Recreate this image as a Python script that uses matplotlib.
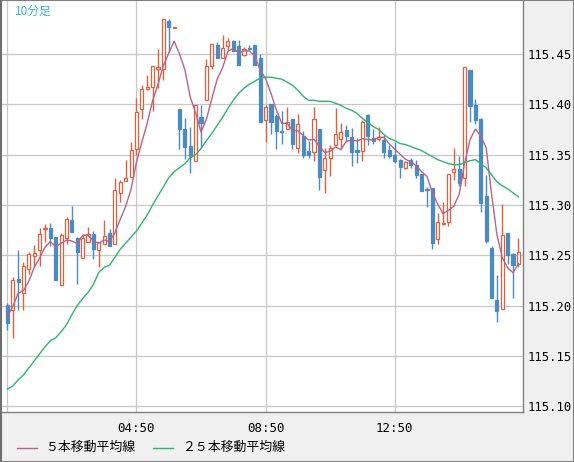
import numpy as np
import pandas as pd
import matplotlib
matplotlib.use("Agg")
import matplotlib.pyplot as plt
from matplotlib.lines import Line2D
from matplotlib.patches import Rectangle

# 10-minute candles
opens = [115.201, 115.196, 115.226, 115.212, 115.236, 115.249, 115.255, 115.276, 115.277, 115.268,
         115.220, 115.267, 115.285, 115.267, 115.247, 115.263, 115.271, 115.255, 115.261, 115.272,
         115.261, 115.312, 115.324, 115.328, 115.356, 115.395, 115.415, 115.417, 115.435, 115.435,
         115.483, 115.476, 115.395, 115.375, 115.359, 115.344, 115.387, 115.404, 115.438, 115.459,
         115.446, 115.458, 115.463, 115.458, 115.449, 115.456, 115.459, 115.446, 115.384, 115.400,
         115.388, 115.373, 115.375, 115.385, 115.357, 115.369, 115.354, 115.353, 115.375, 115.335,
         115.347, 115.360, 115.366, 115.374, 115.368, 115.355, 115.354, 115.389, 115.367, 115.366,
         115.365, 115.355, 115.350, 115.345, 115.337, 115.345, 115.340, 115.331, 115.316, 115.317,
         115.266, 115.281, 115.283, 115.333, 115.336, 115.327, 115.434, 115.399, 115.385, 115.309,
         115.257, 115.206, 115.197, 115.272, 115.251, 115.241]
highs = [115.203, 115.228, 115.255, 115.243, 115.253, 115.260, 115.277, 115.281, 115.282, 115.268,
         115.272, 115.288, 115.299, 115.268, 115.271, 115.278, 115.274, 115.263, 115.285, 115.276,
         115.327, 115.325, 115.345, 115.363, 115.406, 115.419, 115.429, 115.438, 115.455, 115.485,
         115.485, 115.477, 115.395, 115.386, 115.377, 115.399, 115.399, 115.445, 115.460, 115.462,
         115.469, 115.466, 115.464, 115.464, 115.457, 115.459, 115.459, 115.450, 115.399, 115.400,
         115.390, 115.393, 115.397, 115.385, 115.390, 115.373, 115.364, 115.397, 115.375, 115.357,
         115.360, 115.396, 115.381, 115.379, 115.376, 115.367, 115.384, 115.390, 115.375, 115.377,
         115.370, 115.360, 115.363, 115.346, 115.344, 115.347, 115.345, 115.331, 115.318, 115.317,
         115.292, 115.303, 115.331, 115.357, 115.349, 115.437, 115.434, 115.405, 115.386, 115.330,
         115.259, 115.230, 115.301, 115.272, 115.252, 115.267]
lows = [115.176, 115.168, 115.196, 115.196, 115.231, 115.239, 115.239, 115.263, 115.259, 115.225,
        115.220, 115.261, 115.273, 115.221, 115.247, 115.263, 115.246, 115.238, 115.261, 115.259,
        115.261, 115.303, 115.324, 115.328, 115.350, 115.385, 115.414, 115.393, 115.416, 115.424,
        115.452, 115.476, 115.356, 115.346, 115.332, 115.344, 115.357, 115.404, 115.435, 115.446,
        115.446, 115.454, 115.453, 115.439, 115.448, 115.454, 115.439, 115.382, 115.363, 115.371,
        115.356, 115.361, 115.375, 115.356, 115.352, 115.347, 115.347, 115.344, 115.315, 115.312,
        115.329, 115.359, 115.357, 115.364, 115.339, 115.342, 115.344, 115.360, 115.361, 115.364,
        115.347, 115.347, 115.342, 115.327, 115.336, 115.337, 115.327, 115.314, 115.298, 115.256,
        115.261, 115.280, 115.279, 115.325, 115.319, 115.319, 115.382, 115.380, 115.293, 115.262,
        115.208, 115.184, 115.197, 115.241, 115.208, 115.238]
closes = [115.183, 115.225, 115.223, 115.239, 115.251, 115.252, 115.271, 115.277, 115.267, 115.225,
          115.270, 115.286, 115.273, 115.253, 115.267, 115.271, 115.256, 115.263, 115.269, 115.259,
          115.315, 115.323, 115.327, 115.355, 115.392, 115.415, 115.417, 115.438, 115.437, 115.485,
          115.477, 115.477, 115.375, 115.358, 115.349, 115.399, 115.381, 115.438, 115.460, 115.446,
          115.456, 115.463, 115.453, 115.439, 115.455, 115.455, 115.439, 115.382, 115.397, 115.382,
          115.373, 115.372, 115.382, 115.361, 115.380, 115.350, 115.350, 115.385, 115.328, 115.347,
          115.357, 115.371, 115.372, 115.369, 115.353, 115.353, 115.382, 115.369, 115.364, 115.368,
          115.353, 115.349, 115.344, 115.338, 115.343, 115.340, 115.330, 115.314, 115.315, 115.262,
          115.283, 115.282, 115.331, 115.336, 115.322, 115.437, 115.398, 115.384, 115.302, 115.264,
          115.208, 115.195, 115.270, 115.250, 115.240, 115.253]

# first four 5-bar average points (earlier bars are off the chart)
ma5_head = [115.189, 115.199, 115.212, 115.215]
# 25-bar average
ma25 = [115.117, 115.120, 115.126, 115.131, 115.138, 115.145, 115.152, 115.159, 115.165, 115.168,
        115.174, 115.181, 115.191, 115.200, 115.207, 115.213, 115.221, 115.233, 115.238, 115.240,
        115.248, 115.256, 115.262, 115.268, 115.274, 115.282, 115.290, 115.300, 115.309, 115.318,
        115.327, 115.333, 115.337, 115.341, 115.347, 115.350, 115.356, 115.364, 115.371, 115.379,
        115.387, 115.396, 115.404, 115.411, 115.416, 115.420, 115.423, 115.426, 115.427, 115.427,
        115.426, 115.425, 115.422, 115.419, 115.414, 115.408, 115.404, 115.404, 115.403, 115.403,
        115.403, 115.401, 115.399, 115.396, 115.394, 115.391, 115.386, 115.382, 115.378, 115.375,
        115.370, 115.366, 115.364, 115.361, 115.360, 115.358, 115.356, 115.354, 115.351, 115.348,
        115.345, 115.343, 115.341, 115.340, 115.340, 115.342, 115.344, 115.345, 115.341, 115.337,
        115.330, 115.323, 115.319, 115.316, 115.312, 115.308]

tick_pos = [24, 48, 72]
tick_labels = ["04:50", "08:50", "12:50"]
price_ticks = [115.10, 115.15, 115.20, 115.25, 115.30, 115.35, 115.40, 115.45]

df = pd.DataFrame({"open": opens, "high": highs, "low": lows, "close": closes})
ma5 = df["close"].rolling(5).mean()
ma5.iloc[:4] = ma5_head
x = np.arange(len(df))

up_col = "#e0603e"
down_col = "#4a8bc2"

fig = plt.figure(figsize=(5.74, 4.62), dpi=100, facecolor="#f0f0f0")
ax = fig.add_axes([2 / 574, 1 - 412 / 462, 521 / 574, 411 / 462])
ax.set_facecolor("white")

for xv in [0] + tick_pos:
    ax.axvline(xv, color="#c8c8c8", lw=0.9, zorder=0)
for yv in price_ticks:
    ax.axhline(yv, color="#c8c8c8", lw=0.9, zorder=0)

up = df["close"] >= df["open"]
colors = np.where(up, up_col, down_col)
ax.vlines(x, df["low"], df["high"], colors=colors, lw=1.0, zorder=2)
bottoms = np.minimum(df["open"], df["close"])
heights = np.maximum((df["close"] - df["open"]).abs(), 0.0006)
faces = np.where(up, "white", down_col)
ax.bar(x, heights, bottom=bottoms, width=0.58, color=faces, edgecolor=colors,
       linewidth=0.9, zorder=3)

ax.plot(x, ma5, color="#b8628a", lw=1.0, zorder=4)
ax.plot(x, ma25, color="#2db56f", lw=1.0, zorder=4)

ax.set_xlim(-0.99, 95.85)
ax.set_ylim(115.0942, 115.5027)

ax.yaxis.tick_right()
ax.set_yticks(price_ticks)
ax.set_yticklabels([f"{v:.2f}" for v in price_ticks], family="DejaVu Sans Mono", fontsize=8.8)
ax.set_xticks(tick_pos)
ax.set_xticklabels(tick_labels, family="DejaVu Sans Mono", fontsize=9)
ax.tick_params(axis="y", length=0, pad=3, labelcolor="black")
ax.tick_params(axis="x", length=0, pad=7, labelcolor="black")

for side in ["left", "top"]:
    ax.spines[side].set_visible(False)
for side in ["right", "bottom"]:
    ax.spines[side].set_color("#808080")
    ax.spines[side].set_linewidth(1.0)

ax.text(0.025, 0.99, "10分足", transform=ax.transAxes, ha="left", va="top",
        color="#3ab4e8", fontsize=8.5, family=["Noto Sans CJK JP", "DejaVu Sans"])

# legend drawn by hand along the bottom strip
ly = 1 - 447.5 / 462
fig.add_artist(Line2D([17 / 574, 37 / 574], [ly, ly], color="#b8628a", lw=1.0))
fig.text(45 / 574, ly, "５本移動平均線", va="center", ha="left", fontsize=9.3,
         family=["Noto Sans CJK JP", "DejaVu Sans"])
fig.add_artist(Line2D([153 / 574, 173 / 574], [ly, ly], color="#2db56f", lw=1.0))
fig.text(182 / 574, ly, "２５本移動平均線", va="center", ha="left", fontsize=9.3,
         family=["Noto Sans CJK JP", "DejaVu Sans"])

# outer frame
fig.add_artist(Rectangle((0, 0), 1, 1, transform=fig.transFigure, fill=False,
                         edgecolor="#808080", lw=1.5))
fig.add_artist(Line2D([1 / 574, 1 / 574], [0, 1], color="#6e6e6e", lw=1.5))

fig.savefig("out.png", dpi=100, facecolor=fig.get_facecolor())
